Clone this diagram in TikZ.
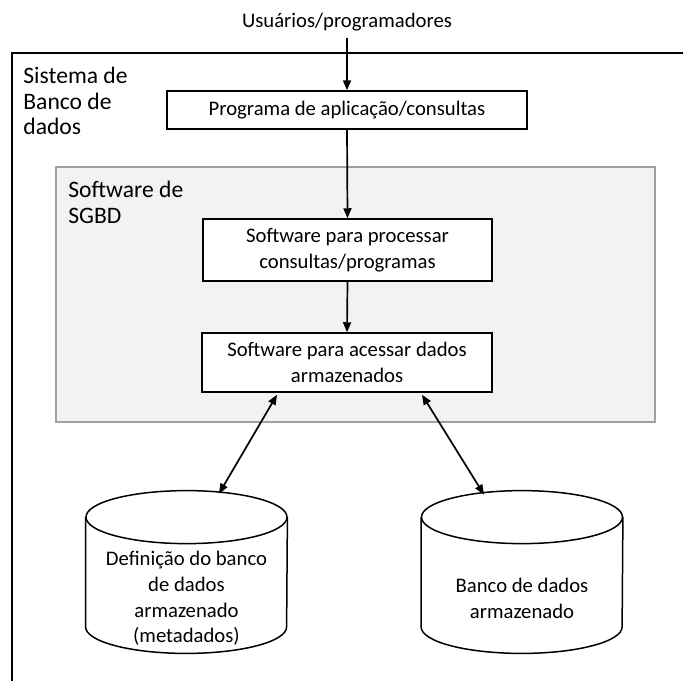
\documentclass[tikz,border=0pt]{standalone}
\usepackage{fontspec}
\setmainfont{Carlito}
\usetikzlibrary{positioning,calc,arrows.meta}
\definecolor{sgbdfill}{HTML}{F2F2F2}
\definecolor{sgbdline}{HTML}{A0A0A0}

\begin{document}
\begin{tikzpicture}[x=0.5pt,y=-0.5pt,font=\fontsize{10.35pt}{12.9pt}\selectfont,
    box/.style={draw,line width=0.75pt,fill=white,align=center,inner sep=0pt},
    lbl/.style={anchor=north west,align=left,inner sep=0pt,font=\fontsize{11.8pt}{12.8pt}\selectfont},
    flow/.style={-{Triangle[length=5pt,width=4pt]},line width=0.85pt},
    both/.style={{Triangle[length=5pt,width=4pt]}-{Triangle[length=5pt,width=4pt]},line width=0.85pt},
    db/.style={align=center,inner sep=0pt,minimum width=100.5pt,minimum height=54.5pt}]
  \useasboundingbox (0,0) rectangle (683,681);
  \draw[line width=0.7pt] (683,53) -- (12,53) -- (12,681);
  \node[lbl] (sys) at (23,67) {Sistema de\\Banco de\\dados};
  \filldraw[fill=sgbdfill,draw=sgbdline,line width=0.9pt] (56,167) rectangle (655,422);
  \node[lbl] (sgbd) at (68,181) {Software de\\SGBD};
  \node (users) at (347,22) {Usuários/programadores};
  \node[box,minimum width=180pt,minimum height=19pt] (app) at (347,110) {Programa de aplicação/consultas};
  \node[box,minimum width=144.5pt,minimum height=31pt] (proc) at (347.5,250) {Software para processar\\consultas/programas};
  \node[box,minimum width=145pt,minimum height=29.5pt] (acc) at (347,362.5) {Software para acessar dados\\armazenados};
  \node[db] (meta) at (186.5,598.5) {Definição do banco\\de dados\\armazenado\\(metadados)};
  \node[db] (data) at (522,598.5) {Banco de dados\\armazenado};
  \foreach \c in {meta,data}{
    \draw[line width=0.75pt] ([yshift=13.25pt]\c.north) ellipse [x radius=50.25pt,y radius=13.25pt];
    \draw[line width=0.75pt] ([yshift=13.25pt]\c.north west) -- ([yshift=13.25pt]\c.south west)
      arc[start angle=180,end angle=360,x radius=50.25pt,y radius=13.25pt] -- ([yshift=13.25pt]\c.north east);
  }
  \draw[flow] (users.south) -- (app.north);
  \draw[flow] (app.south) -- (proc.north);
  \draw[flow] (proc.south) -- (acc.north);
  \draw[both] ([xshift=-35pt,yshift=-1pt]acc.south) -- ([xshift=16.25pt,yshift=25pt]meta.north);
  \draw[both] ([xshift=37.5pt,yshift=-1pt]acc.south) -- ([xshift=-19pt,yshift=24.5pt]data.north);
\end{tikzpicture}
\end{document}
